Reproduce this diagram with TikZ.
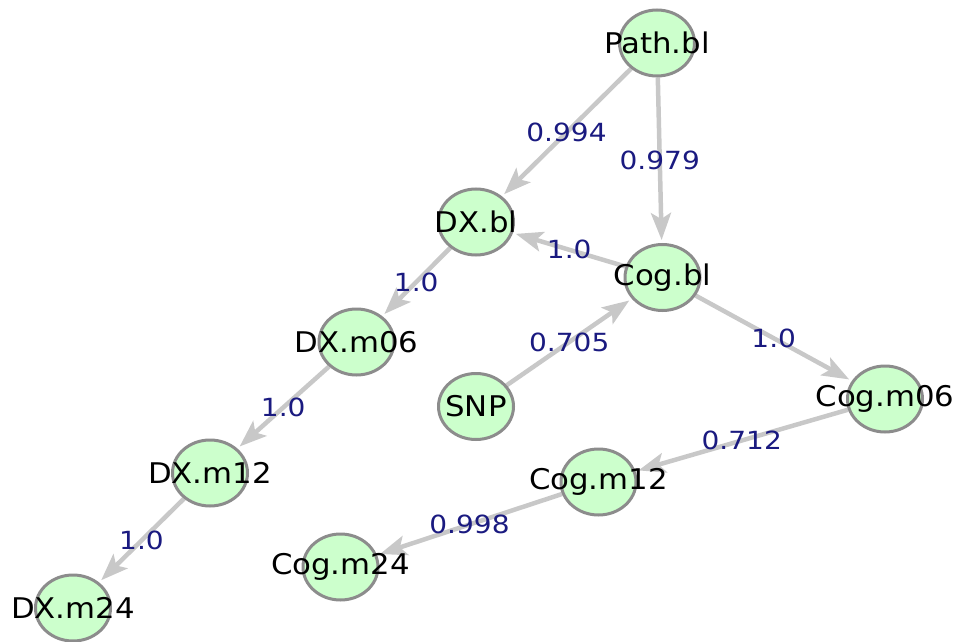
\documentclass[tikz,border=0pt]{standalone}
\usepackage{fontspec}
\setmainfont{DejaVu Sans}
\newfontfamily\nodefont[FakeStretch=1.08]{DejaVu Sans}
\newfontfamily\edgefont[FakeStretch=1.12]{DejaVu Sans}
\usetikzlibrary{shapes.geometric,arrows.meta}
\definecolor{nodefill}{RGB}{204,255,204}
\definecolor{nodeline}{RGB}{140,140,140}
\definecolor{edgeline}{RGB}{200,200,200}
\definecolor{labelblue}{RGB}{26,26,128}
\pgfdeclarelayer{bg}
\pgfsetlayers{bg,main}
\tikzset{
  vertex/.style={ellipse, draw=nodeline, fill=nodefill, line width=3pt,
    minimum width=75pt, minimum height=66pt, inner sep=0pt},
  vlabel/.style={font=\nodefont\fontsize{28.5}{28.5}\selectfont, text=black, inner sep=0pt},
  edge/.style={draw=edgeline, line width=4.5pt,
    -{Stealth[length=27pt,width=20pt,inset=6pt]}, shorten >=3pt},
  elabel/.style={font=\edgefont\fontsize{25}{25}\selectfont, text=labelblue, inner sep=0pt},
}
\begin{document}
\begin{tikzpicture}[x=1pt,y=-1pt]
\useasboundingbox (0,0) rectangle (959,642);
\node[vertex, label={[vlabel]center:Path.bl}] (pb) at (657,43) {};
\node[vertex, label={[vlabel]center:DX.bl}] (dxbl) at (476,222) {};
\node[vertex, label={[vlabel]center:Cog.bl}] (cogbl) at (662.5,277.5) {};
\node[vertex, label={[vlabel]center:DX.m06}] (dxm06) at (356.5,342) {};
\node[vertex, label={[vlabel]center:SNP}] (snp) at (476,406.5) {};
\node[vertex, label={[vlabel]center:Cog.m06}] (cogm06) at (885,399) {};
\node[vertex, label={[vlabel]center:DX.m12}] (dxm12) at (210,473) {};
\node[vertex, label={[vlabel]center:Cog.m12}] (cogm12) at (598.5,482) {};
\node[vertex, label={[vlabel]center:Cog.m24}] (cogm24) at (340.5,567) {};
\node[vertex, label={[vlabel]center:DX.m24}] (dxm24) at (73,608) {};
\begin{pgfonlayer}{bg}
\draw[edge] (pb) -- node[elabel] (l1) {0.994} (dxbl);
\draw[edge] (pb) -- node[elabel] (l2) {0.979} (cogbl);
\draw[edge] (cogbl) -- node[elabel] (l3) {1.0} (dxbl);
\draw[edge] (dxbl) -- node[elabel] (l4) {1.0} (dxm06);
\draw[edge] (dxm06) -- node[elabel] (l5) {1.0} (dxm12);
\draw[edge] (dxm12) -- node[elabel] (l6) {1.0} (dxm24);
\draw[edge] (snp) -- node[elabel] (l7) {0.705} (cogbl);
\draw[edge] (cogbl) -- node[elabel] (l8) {1.0} (cogm06);
\draw[edge] (cogm06) -- node[elabel] (l9) {0.712} (cogm12);
\draw[edge] (cogm12) -- node[elabel] (l10) {0.998} (cogm24);
\end{pgfonlayer}
\end{tikzpicture}
\end{document}
